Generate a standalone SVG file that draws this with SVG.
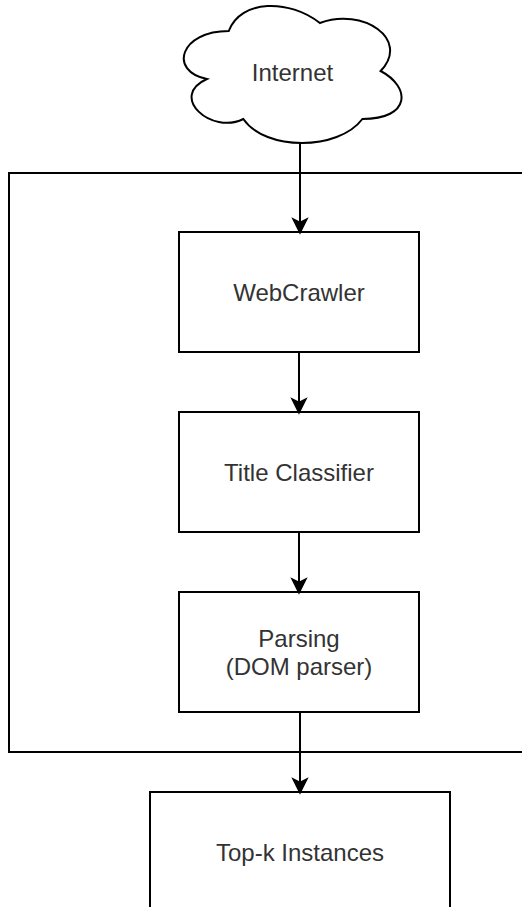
<svg xmlns="http://www.w3.org/2000/svg" width="522" height="907" viewBox="0 0 522 907">
  <style>
    .box { fill: #ffffff; stroke: #000000; stroke-width: 2; }
    .container { fill: none; stroke: #000000; stroke-width: 2; }
    .edge { fill: none; stroke: #000000; stroke-width: 2; marker-end: url(#arrow); }
    .label { font-family: "Liberation Sans", Arial, sans-serif; font-size: 24px; fill: #333333; text-anchor: middle; }
  </style>
  <defs>
    <marker id="arrow" markerUnits="userSpaceOnUse" markerWidth="20" markerHeight="20" refX="15" refY="8" orient="auto" overflow="visible">
      <path d="M16,8 L2,1 L5.5,8 L2,15 Z" fill="#000000" stroke="#000000" stroke-width="1.5" stroke-linejoin="miter"/>
    </marker>
  </defs>
  <rect width="522" height="907" fill="#ffffff"/>

  <g id="container">
    <rect class="container" x="9" y="173" width="600" height="579"/>
  </g>

  <g id="internet">
    <path class="box" d="M228.75,31 C180.15,31 168,71 206.88,79 C168,96.6 211.74,135 243.33,119 C265.2,151 338.1,151 362.4,119 C411,119 411,87 380.63,71 C411,39 362.4,7 319.88,23 C289.5,-1 240.9,-1 228.75,31 Z"/>
    <text class="label" x="292.5" y="81">Internet</text>
  </g>

  <g id="webcrawler">
    <rect class="box" x="179" y="232" width="240" height="120"/>
    <text class="label" x="299" y="301">WebCrawler</text>
  </g>

  <g id="title-classifier">
    <rect class="box" x="179" y="412" width="240" height="120"/>
    <text class="label" x="299" y="481">Title Classifier</text>
  </g>

  <g id="parsing">
    <rect class="box" x="179" y="592" width="240" height="120"/>
    <text class="label" x="299" y="647">Parsing</text>
    <text class="label" x="299" y="675">(DOM parser)</text>
  </g>

  <g id="topk">
    <rect class="box" x="150" y="792" width="300" height="120"/>
    <text class="label" x="300" y="861">Top-k Instances</text>
  </g>

  <g id="connectors">
    <line class="edge" x1="300" y1="143" x2="300" y2="232"/>
    <line class="edge" x1="299" y1="352" x2="299" y2="412"/>
    <line class="edge" x1="299" y1="532" x2="299" y2="592"/>
    <line class="edge" x1="300" y1="712" x2="300" y2="792"/>
  </g>
</svg>
